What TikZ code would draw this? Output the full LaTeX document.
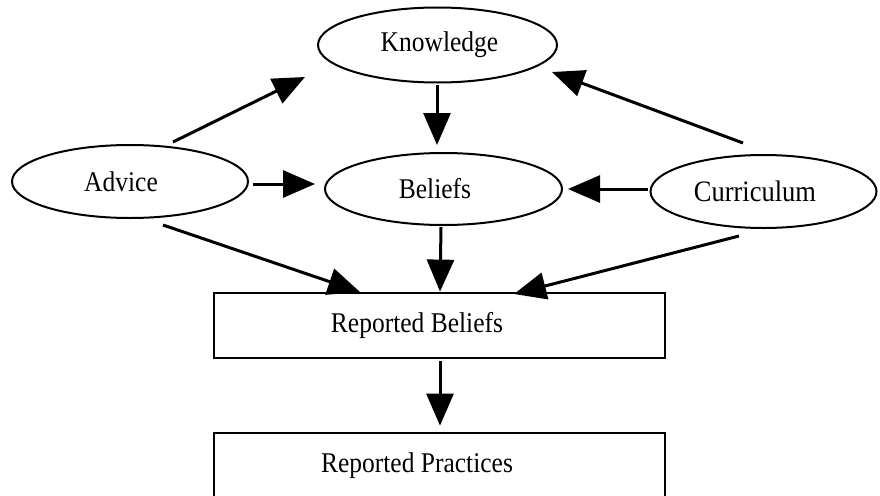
\documentclass[tikz,border=0pt]{standalone}
\usepackage{fontspec}
\setmainfont{Liberation Serif}
\usetikzlibrary{arrows.meta,shapes.geometric,calc}
% slightly taller lettering, as in the printed figure
\newcommand{\vstretch}[1]{\scalebox{1}[1.12]{#1}}
\begin{document}
\begin{tikzpicture}[x=1pt,y=-1pt,
  bubble/.style={ellipse, draw, line width=2pt, minimum width=#1,
    inner sep=0pt, font=\fontsize{25.5}{30}\selectfont},
  panel/.style={rectangle, draw, line width=2.8pt, minimum width=451pt,
    minimum height=65pt, inner sep=0pt, font=\fontsize{25.5}{30}\selectfont},
  arr/.style={line width=3pt, -{Triangle[length=32pt,width=27pt]}}]
\useasboundingbox (0,0) rectangle (880,495);

% concepts
\node[bubble=239pt, minimum height=75pt] (Knowledge) at (437.5,45)
  {\vstretch{Knowledge}\hspace*{-4pt}};
\node[bubble=236pt, minimum height=73pt] (Advice) at (130,181.5)
  {\vstretch{Advice}\hspace*{18pt}};
\node[bubble=237pt, minimum height=72pt] (Beliefs) at (443.5,189)
  {\vstretch{Beliefs}\hspace*{17pt}};
\node[bubble=226pt, minimum height=73pt] (Curriculum) at (763.5,191.5)
  {\vstretch{\fontsize{26.5}{30}\selectfont Curriculum}\hspace*{17pt}};

% reported outcomes
\node[panel] (RB) at (439.5,325.5) {\vstretch{Reported Beliefs}\hspace*{45pt}};
\node[panel] (RP) at (439.5,465.5) {\vstretch{Reported Practices}\hspace*{45pt}};

% influences
\draw[arr] ($(Advice)+(43,-39.5)$) -- ($(Knowledge)+(-132.5,32)$);
\draw[arr] ($(Curriculum)+(-20.5,-48.5)$) -- ($(Knowledge)+(114.5,27)$);
\draw[arr] ($(Knowledge)+(-0.5,40)$) -- ($(Beliefs)+(-6.5,-44)$);
\draw[arr] ($(Advice)+(123,2.5)$) -- ($(Beliefs)+(-128.5,-5)$);
\draw[arr] ($(Curriculum)+(-115.5,-2.5)$) -- ($(Beliefs)+(124.5,0)$);
\draw[arr] ($(Beliefs)+(-2.5,38)$) -- ($(RB.north)+(0.5,0)$);
\draw[arr] ($(Advice)+(33,43.5)$) -- ($(RB)+(-79.5,-33.5)$);
\draw[arr] ($(Curriculum)+(-24.5,44.5)$) -- ($(RB)+(74.5,-31.5)$);
\draw[arr] ($(RB.south)+(0.5,2)$) -- ($(RP.north)+(0.5,-6)$);
\end{tikzpicture}
\end{document}
